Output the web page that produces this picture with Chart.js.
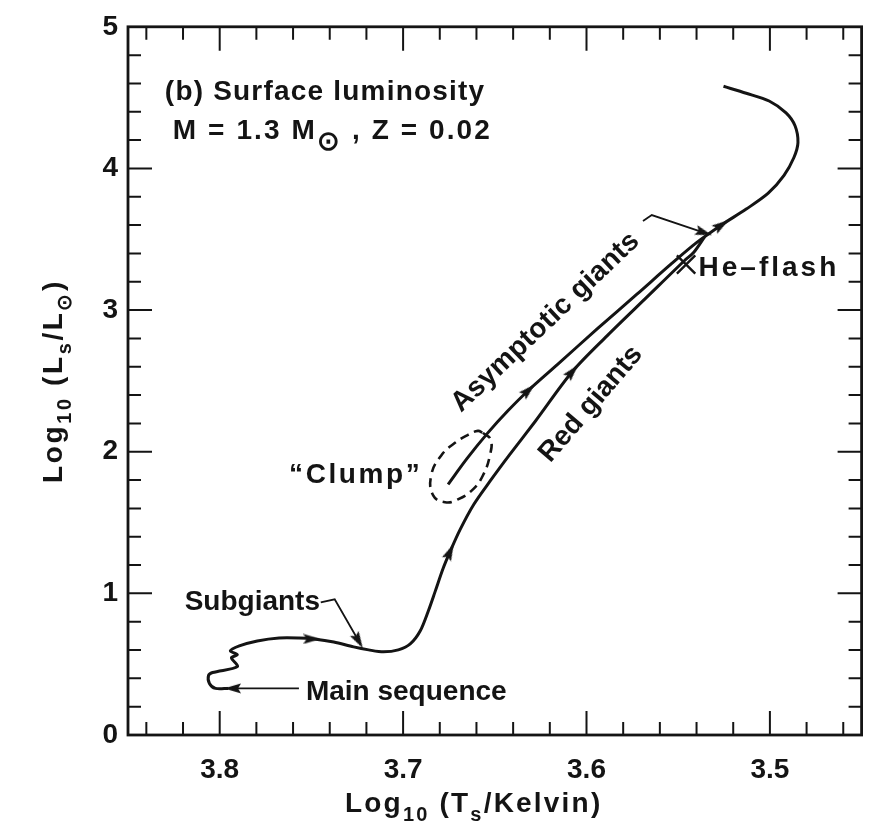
<!DOCTYPE html>
<html>
<head>
<meta charset="utf-8">
<script src="https://cdn.jsdelivr.net/npm/chart.js@4.4.1/dist/chart.umd.min.js"></script>
<style>
  html, body { margin: 0; padding: 0; background: #ffffff; }
  canvas { display: block; }
</style>
</head>
<body>
<canvas id="hr" width="877" height="829"></canvas>
<script>
// Evolutionary track of a 1.3 solar-mass star (Z = 0.02) in the HR plane.
// x: log10 effective temperature, y: log10 surface luminosity (solar units).

// Main sequence -> subgiant branch -> red giant branch, past the He flash to the AGB
const rgbLogT = [3.7953, 3.8023, 3.8056, 3.8061, 3.8039, 3.7904, 3.7936, 3.7904, 3.7942, 3.7893,
                 3.7795, 3.7676, 3.7568, 3.7486, 3.7378, 3.7270, 3.7188, 3.7107, 3.7026, 3.6961,
                 3.6907, 3.6863, 3.6825, 3.6782, 3.6744, 3.6690, 3.6614, 3.6527, 3.6419, 3.6278,
                 3.6077, 3.5888, 3.5671, 3.5465, 3.5416, 3.5356];
const rgbLogL = [0.329, 0.329, 0.364, 0.420, 0.441, 0.483, 0.545, 0.566, 0.594, 0.629,
                 0.664, 0.685, 0.685, 0.678, 0.657, 0.622, 0.601, 0.587, 0.601, 0.643,
                 0.734, 0.874, 1.014, 1.175, 1.294, 1.448, 1.629, 1.790, 1.979, 2.217,
                 2.566, 2.818, 3.091, 3.350, 3.406, 3.517];

// Helium-burning clump, then the asymptotic giant branch up to the final turn
const agbLogT = [3.6755, 3.6652, 3.6538, 3.6430, 3.6316, 3.6159, 3.5942, 3.5725, 3.5535, 3.5400,
                 3.5264, 3.5129, 3.5009, 3.4923, 3.4869, 3.4847, 3.4863, 3.4912, 3.5004, 3.5129,
                 3.5253];
const agbLogL = [1.769, 1.951, 2.133, 2.287, 2.434, 2.615, 2.867, 3.112, 3.329, 3.476,
                 3.601, 3.713, 3.825, 3.951, 4.077, 4.182, 4.301, 4.392, 4.476, 4.531,
                 4.580];

// Dashed ring around the clump
const clumpRingLogT = [3.6565, 3.6522, 3.6527, 3.6565, 3.6619, 3.6701, 3.6771, 3.6836, 3.6847,
                       3.6793, 3.6717, 3.6646, 3.6592, 3.6565];
const clumpRingLogL = [2.133, 2.084, 1.972, 1.832, 1.734, 1.664, 1.643, 1.692, 1.832,
                       1.972, 2.063, 2.119, 2.147, 2.133];

// Direction arrows along the track and at the ends of the leader lines (angle in degrees, 0 = up)
const arrowLogT  = [3.7497, 3.6744, 3.6077, 3.6316, 3.5264, 3.7930, 3.7243, 3.5360];
const arrowLogL  = [0.678, 1.294, 2.566, 2.434, 3.601, 0.329, 0.665, 3.547];
const arrowAngle = [90, 25, 41, 47, 56, 270, 150, 108];

// Leader lines from the labels to the track
const msLeaderLogT = [3.7568, 3.7930];
const msLeaderLogL = [0.329, 0.329];
const sgLeaderLogT = [3.7449, 3.7373, 3.7243];
const sgLeaderLogL = [0.937, 0.958, 0.665];
const agbLeaderLogT = [3.5692, 3.5644, 3.5360];
const agbLeaderLogL = [3.629, 3.671, 3.547];

// Helium flash marker
const heFlashLogT = [3.5457];
const heFlashLogL = [3.322];

// Axis ticks
const xTickValues = [3.8, 3.7, 3.6, 3.5];
const yTickValues = [0, 1, 2, 3, 4, 5];

const INK = '#141414';
const FONT = '"Liberation Sans", Arial, sans-serif';

const pts = (xs, ys) => xs.map((x, i) => ({ x: x, y: ys[i] }));

// Narrow arrowhead glyph, pointing up, used as a point style
const arrowHead = document.createElement('canvas');
arrowHead.width = 11;
arrowHead.height = 17;
(function () {
  const c = arrowHead.getContext('2d');
  c.fillStyle = INK;
  c.beginPath();
  c.moveTo(5.5, 0);
  c.lineTo(10.5, 17);
  c.lineTo(5.5, 14);
  c.lineTo(0.5, 17);
  c.closePath();
  c.fill();
})();

// Text annotations placed in data coordinates (sp = extra letter spacing in px)
const notes = [
  { parts: [['(b) Surface luminosity']], x: 3.8299, y: 4.483, angle: 0, sp: 1.2 },
  { parts: [['M = 1.3 M'], ['\u2299', 'sun'], [' , Z = 0.02']], x: 3.8256, y: 4.210, angle: 0, sp: 2.1 },
  { parts: [['Subgiants']], x: 3.8191, y: 0.881, angle: 0, sp: 0 },
  { parts: [['Main sequence']], x: 3.7530, y: 0.245, angle: 0, sp: 0 },
  { parts: [['\u201CClump\u201D']], x: 3.7622, y: 1.776, angle: 0, sp: 2.6 },
  { parts: [['He\u2013flash']], x: 3.5389, y: 3.238, angle: 0, sp: 3 },
  { parts: [['Asymptotic giants']], x: 3.6684, y: 2.273, angle: -43.5, sp: 0.3 },
  { parts: [['Red giants']], x: 3.6197, y: 1.916, angle: -49.5, sp: 0 }
];

// Draws a run of text pieces; 'sub' pieces are lowered and smaller, 'sun' is the solar symbol
function drawRich(ctx, parts, x, y, angleDeg, size, spacing) {
  ctx.save();
  ctx.translate(x, y);
  ctx.rotate(angleDeg * Math.PI / 180);
  ctx.fillStyle = INK;
  ctx.textBaseline = 'alphabetic';
  ctx.textAlign = 'left';
  let cx = 0;
  for (const [t, kind] of parts) {
    let fs = size, dy = 0;
    if (kind === 'sub') { fs = Math.round(size * 0.72); dy = size * 0.32; }
    if (kind === 'sun') { fs = Math.round(size * 0.95); dy = size * 0.42; }
    ctx.font = 'bold ' + fs + 'px ' + FONT;
    for (const ch of t) {
      ctx.fillText(ch, cx, dy);
      cx += ctx.measureText(ch).width + spacing;
    }
  }
  ctx.restore();
}

const framePlugin = {
  id: 'frameAndNotes',
  afterDatasetsDraw(chart) {
    const ctx = chart.ctx;
    const a = chart.chartArea;
    const xs = chart.scales.x, ys = chart.scales.y;
    ctx.save();
    ctx.strokeStyle = INK;
    ctx.lineCap = 'butt';

    // inward ticks on all four sides
    ctx.lineWidth = 2;
    for (let k = 346; k <= 384; k += 2) {
      const px = xs.getPixelForValue(k / 100);
      const len = (k % 10 === 0) ? 24 : 13;
      ctx.beginPath();
      ctx.moveTo(px, a.bottom); ctx.lineTo(px, a.bottom - len);
      ctx.moveTo(px, a.top); ctx.lineTo(px, a.top + len);
      ctx.stroke();
    }
    for (let k = 2; k <= 48; k += 2) {
      const py = ys.getPixelForValue(k / 10);
      const len = (k % 10 === 0) ? 24 : 13;
      ctx.beginPath();
      ctx.moveTo(a.left, py); ctx.lineTo(a.left + len, py);
      ctx.moveTo(a.right, py); ctx.lineTo(a.right - len, py);
      ctx.stroke();
    }

    // frame
    ctx.lineWidth = 2.8;
    ctx.strokeRect(a.left, a.top, a.right - a.left, a.bottom - a.top);

    // annotations
    for (const n of notes) {
      drawRich(ctx, n.parts, xs.getPixelForValue(n.x), ys.getPixelForValue(n.y), n.angle, 28, n.sp);
    }

    // axis titles
    drawRich(ctx, [['Log'], ['10', 'sub'], [' (T'], ['s', 'sub'], ['/Kelvin)']],
             a.left + 217, a.bottom + 77, 0, 28, 2.2);
    drawRich(ctx, [['Log'], ['10', 'sub'], [' (L'], ['s', 'sub'], ['/L'], ['\u2299', 'sub'], [')']],
             a.left - 66, ys.getPixelForValue(1.78), -90, 28, 2.6);
    ctx.restore();
  }
};

new Chart(document.getElementById('hr'), {
  type: 'scatter',
  data: {
    datasets: [
      { data: pts(rgbLogT, rgbLogL), showLine: true, borderColor: INK, borderWidth: 3,
        pointRadius: 0, tension: 0.3, fill: false },
      { data: pts(agbLogT, agbLogL), showLine: true, borderColor: INK, borderWidth: 3,
        pointRadius: 0, tension: 0.3, fill: false },
      { data: pts(clumpRingLogT, clumpRingLogL), showLine: true, borderColor: INK, borderWidth: 2.6,
        borderDash: [9, 6], pointRadius: 0, tension: 0.45, fill: false },
      { data: pts(msLeaderLogT, msLeaderLogL), showLine: true, borderColor: INK, borderWidth: 1.8,
        pointRadius: 0, tension: 0 },
      { data: pts(sgLeaderLogT, sgLeaderLogL), showLine: true, borderColor: INK, borderWidth: 1.8,
        pointRadius: 0, tension: 0 },
      { data: pts(agbLeaderLogT, agbLeaderLogL), showLine: true, borderColor: INK, borderWidth: 1.8,
        pointRadius: 0, tension: 0 },
      { data: pts(arrowLogT, arrowLogL), showLine: false, pointStyle: arrowHead,
        rotation: arrowAngle, pointRadius: 6 },
      { data: pts(heFlashLogT, heFlashLogL), showLine: false, pointStyle: 'crossRot',
        pointRadius: 13, borderColor: INK, borderWidth: 2.4 }
    ]
  },
  options: {
    responsive: false,
    animation: false,
    devicePixelRatio: 1,
    events: [],
    layout: { padding: { top: 20, right: 11, left: 0, bottom: 0 } },
    plugins: { legend: { display: false }, tooltip: { enabled: false } },
    scales: {
      x: {
        type: 'linear', min: 3.45, max: 3.85, reverse: true,
        grid: { display: false, drawTicks: false }, border: { display: false },
        afterBuildTicks: s => { s.ticks = xTickValues.map(v => ({ value: v })); },
        afterFit: s => { s.height = 94; },
        ticks: { padding: 18, color: INK, font: { family: FONT, size: 28, weight: 'bold' },
                 callback: v => Number(v).toFixed(1) }
      },
      y: {
        type: 'linear', min: 0, max: 5,
        grid: { display: false, drawTicks: false }, border: { display: false },
        afterBuildTicks: s => { s.ticks = yTickValues.map(v => ({ value: v })); },
        afterFit: s => { s.width = 128; },
        ticks: { padding: 10, color: INK, font: { family: FONT, size: 28, weight: 'bold' },
                 callback: v => String(v) }
      }
    }
  },
  plugins: [framePlugin]
});
</script>
</body>
</html>
